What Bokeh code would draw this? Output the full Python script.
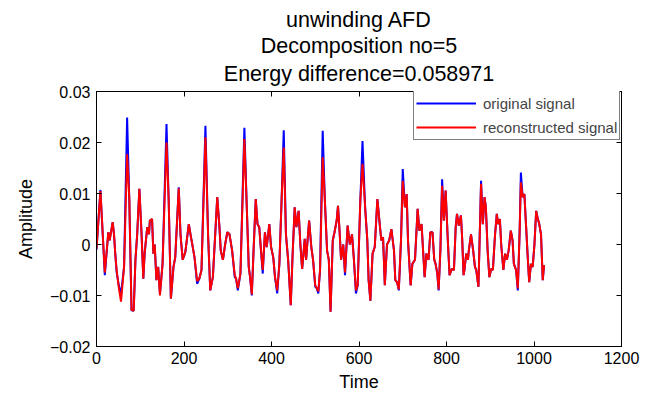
from bokeh.plotting import figure
from bokeh.models import (Range1d, FixedTicker, LinearAxis, Legend, LegendItem,
                          Title, CustomJSTickFormatter)
from bokeh.embed import file_html
from bokeh.resources import INLINE

# ---- data ----
time = [0, 9, 19, 27, 30, 37, 40, 43, 46, 51, 56, 63,
        70, 75, 80, 85, 89, 93, 98, 103, 107, 110, 116, 120, 122, 127, 130, 133, 137, 141, 145, 151,
        160, 165, 170, 176, 180, 188, 192, 197, 203, 211, 216, 220, 224, 230, 235, 240,
        249, 255, 260, 266, 276, 281, 284, 289, 294, 299, 304, 310, 316, 319, 323, 329,
        338, 343, 348, 351, 355, 359, 364, 368, 372, 376, 380, 385, 389, 395, 399, 404, 408, 413, 418, 423,
        428, 433, 438, 444, 448, 453, 457, 462, 466, 470, 476, 479, 486, 491, 495, 500, 503, 507, 511,
        517, 522, 527, 531, 535, 540, 544, 549, 552, 556, 559, 564, 568, 574, 579, 584, 588, 593, 597, 603,
        608, 614, 619, 622, 626, 631, 636, 642, 648, 651, 655, 659, 664, 669, 674, 680, 683, 687, 691, 696,
        700, 705, 709, 712, 718, 722, 728, 734, 738, 743, 746, 750, 754, 759, 763, 768, 772, 775, 779, 782, 786,
        790, 794, 798, 803, 807, 812, 817, 821, 824, 828, 833, 836, 839, 841, 845, 849, 851, 856, 861, 865, 868, 873,
        879, 883, 887, 890, 894, 898, 902, 906, 911, 915, 918, 922, 925, 930, 934, 938, 942, 947, 951, 954, 959, 963, 967,
        970, 974, 978, 982, 986, 989, 993, 997, 1001, 1005, 1008, 1012, 1016, 1020, 1023]

original = [-0.0010, 0.0107, -0.0060, 0.0024, 0.0008, 0.0044, 0.0020, -0.0020, -0.0054, -0.0080, -0.0098, -0.0044,
            0.0249, 0.0086, -0.0129, -0.0130, -0.0030, 0.0020, 0.0109, 0.0020, -0.0067, -0.0018, 0.0034, 0.0020, 0.0047, 0.0050, -0.0018, 0.0000, -0.0070, -0.0044, -0.0096, -0.0038,
            0.0236, 0.0086, -0.0106, -0.0044, -0.0025, 0.0112, 0.0020, -0.0030, -0.0015, 0.0040, 0.0014, -0.0005, -0.0025, -0.0077, -0.0067, -0.0050,
            0.0233, 0.0020, -0.0090, -0.0064, 0.0093, 0.0034, -0.0012, -0.0030, 0.0000, 0.0024, 0.0020, -0.0012, -0.0064, -0.0067, -0.0090, -0.0057,
            0.0229, 0.0086, -0.0044, -0.0064, -0.0100, -0.0012, 0.0089, 0.0040, 0.0034, -0.0012, -0.0057, 0.0024, -0.0005, 0.0040, -0.0005, -0.0025, -0.0064, -0.0096, -0.0038, 0.0086,
            0.0224, 0.0020, -0.0030, -0.0119, -0.0025, 0.0073, 0.0034, 0.0066, 0.0000, -0.0048, 0.0011, -0.0030, 0.0047, -0.0005, -0.0030, -0.0083, -0.0085, -0.0096, -0.0050,
            0.0223, 0.0086, -0.0012, -0.0030, -0.0132, 0.0008, 0.0024, 0.0047, 0.0076, 0.0020, -0.0030, 0.0000, -0.0060, 0.0037, 0.0000, 0.0020, -0.0025, -0.0096, -0.0080, 0.0086,
            0.0203, 0.0073, 0.0008, -0.0070, -0.0110, -0.0018, -0.0005, 0.0089, 0.0034, 0.0008, 0.0014, -0.0080, 0.0000, 0.0008, 0.0030, -0.0012, -0.0070, -0.0074, -0.0090, 0.0008,
            0.0148, 0.0073, 0.0099, 0.0008, -0.0080, -0.0038, -0.0030, 0.0070, 0.0027, 0.0040, -0.0005, -0.0064, -0.0018, -0.0030, 0.0024, 0.0024, -0.0030, -0.0038, -0.0057, -0.0090, -0.0012,
            0.0128, 0.0047, 0.0106, 0.0008, -0.0060, -0.0048, -0.0050, 0.0034, 0.0060, 0.0037, 0.0057, 0.0008, -0.0060, -0.0050, -0.0018, -0.0030, -0.0012, 0.0020, -0.0012, -0.0044, -0.0050, -0.0083,
            0.0125, 0.0040, 0.0093, 0.0073, -0.0012, -0.0064, -0.0048, -0.0050, 0.0020, 0.0060, 0.0040, 0.0050, 0.0000, -0.0050, -0.0018, -0.0030, -0.0012, 0.0027, 0.0008, -0.0038, -0.0050, -0.0090, 0.0020,
            0.0141, 0.0093, 0.0099, 0.0034, -0.0030, -0.0074, -0.0038, -0.0044, 0.0000, 0.0066, 0.0053, 0.0040, 0.0020, -0.0070, -0.0040]

reconstructed = [-0.0008, 0.0105, -0.0055, 0.0024, 0.0008, 0.0044, 0.0020, -0.0020, -0.0050, -0.0085, -0.0112, -0.0044,
                 0.0177, 0.0090, -0.0128, -0.0130, -0.0030, 0.0020, 0.0109, 0.0020, -0.0067, -0.0018, 0.0034, 0.0020, 0.0047, 0.0050, -0.0018, 0.0000, -0.0070, -0.0044, -0.0100, -0.0038,
                 0.0200, 0.0086, -0.0106, -0.0044, -0.0025, 0.0110, 0.0020, -0.0030, -0.0015, 0.0040, 0.0014, -0.0005, -0.0025, -0.0072, -0.0067, -0.0050,
                 0.0210, 0.0020, -0.0090, -0.0064, 0.0093, 0.0034, -0.0012, -0.0030, 0.0000, 0.0024, 0.0020, -0.0012, -0.0060, -0.0067, -0.0086, -0.0057,
                 0.0207, 0.0086, -0.0044, -0.0064, -0.0098, -0.0012, 0.0089, 0.0040, 0.0034, -0.0012, -0.0050, 0.0024, -0.0005, 0.0040, -0.0005, -0.0025, -0.0064, -0.0090, -0.0038, 0.0086,
                 0.0190, 0.0020, -0.0030, -0.0119, -0.0025, 0.0073, 0.0034, 0.0066, 0.0000, -0.0048, 0.0011, -0.0030, 0.0047, -0.0005, -0.0030, -0.0080, -0.0085, -0.0092, -0.0050,
                 0.0171, 0.0086, -0.0012, -0.0030, -0.0132, 0.0008, 0.0024, 0.0047, 0.0076, 0.0020, -0.0030, 0.0000, -0.0055, 0.0037, 0.0000, 0.0020, -0.0025, -0.0090, -0.0080, 0.0086,
                 0.0158, 0.0073, 0.0008, -0.0070, -0.0110, -0.0018, -0.0005, 0.0089, 0.0034, 0.0008, 0.0014, -0.0080, 0.0000, 0.0008, 0.0030, -0.0012, -0.0070, -0.0074, -0.0088, 0.0008,
                 0.0125, 0.0073, 0.0099, 0.0008, -0.0080, -0.0038, -0.0030, 0.0070, 0.0027, 0.0040, -0.0005, -0.0064, -0.0018, -0.0030, 0.0024, 0.0024, -0.0030, -0.0038, -0.0057, -0.0088, -0.0012,
                 0.0115, 0.0047, 0.0106, 0.0008, -0.0060, -0.0048, -0.0050, 0.0034, 0.0060, 0.0037, 0.0057, 0.0008, -0.0060, -0.0050, -0.0018, -0.0030, -0.0012, 0.0020, -0.0012, -0.0044, -0.0050, -0.0083,
                 0.0119, 0.0040, 0.0093, 0.0073, -0.0012, -0.0064, -0.0048, -0.0050, 0.0020, 0.0060, 0.0040, 0.0050, 0.0000, -0.0050, -0.0018, -0.0030, -0.0012, 0.0027, 0.0008, -0.0038, -0.0050, -0.0086, 0.0020,
                 0.0122, 0.0093, 0.0099, 0.0034, -0.0030, -0.0074, -0.0038, -0.0044, 0.0000, 0.0066, 0.0053, 0.0040, 0.0020, -0.0070, -0.0040]

x_ticks = [0, 200, 400, 600, 800, 1000, 1200]
y_ticks = [-0.02, -0.01, 0, 0.01, 0.02, 0.03]
title_lines = ["unwinding AFD", "Decomposition no=5", "Energy difference=0.058971"]
series_names = ["original signal", "reconstructed signal"]
series_colors = ["#0000ff", "#ff0000"]

FONT = "Liberation Sans"

p = figure(width=648, height=394, output_backend="svg", toolbar_location=None,
           x_range=Range1d(0, 1200), y_range=Range1d(-0.02, 0.03),
           min_border_left=96, min_border_right=27, min_border_top=91, min_border_bottom=48)
p.title_location = None
p.background_fill_color = "white"
p.border_fill_color = "white"
p.outline_line_color = "black"
p.outline_line_width = 1
p.xgrid.visible = False
p.ygrid.visible = False

r_orig = p.line(time, original, line_color=series_colors[0], line_width=2)
r_rec = p.line(time, reconstructed, line_color=series_colors[1], line_width=2)

yfmt = CustomJSTickFormatter(code="""
if (Math.abs(tick) < 1e-12) { return "0"; }
return (tick < 0 ? "\u2212" : "") + Math.abs(tick).toFixed(2);
""")

def style_axis(ax, show_labels=True):
    ax.axis_line_color = "black"
    ax.major_tick_line_color = "black"
    ax.major_tick_in = 5
    ax.major_tick_out = 0
    ax.minor_tick_line_color = None
    ax.major_label_text_font = FONT
    ax.major_label_text_color = "black"
    ax.major_label_text_font_size = "16px"
    ax.axis_label_text_font = FONT
    ax.axis_label_text_font_style = "normal"
    ax.axis_label_text_font_size = "18px"
    ax.axis_label_text_color = "black"
    if not show_labels:
        ax.major_label_text_font_size = "1px"
        ax.major_label_text_alpha = 0
        ax.major_label_standoff = 0

xa = p.xaxis[0]
xa.ticker = FixedTicker(ticks=x_ticks)
xa.axis_label = "Time"
style_axis(xa)
xa.major_label_standoff = 5
xa.axis_label_standoff = 5

ya = p.yaxis[0]
ya.ticker = FixedTicker(ticks=y_ticks)
ya.formatter = yfmt
ya.axis_label = "Amplitude"
style_axis(ya)
ya.major_label_standoff = 6
ya.axis_label_standoff = 11

top = LinearAxis(ticker=FixedTicker(ticks=x_ticks))
style_axis(top, False)
p.add_layout(top, "above")
right = LinearAxis(ticker=FixedTicker(ticks=y_ticks))
style_axis(right, False)
p.add_layout(right, "right")

# titles: added innermost first (last line closest to the frame)
title_standoffs = [0, 0, 8]
title_valign = ["bottom", "bottom", "top"]
for txt, so, va in reversed(list(zip(title_lines, title_standoffs, title_valign))):
    p.add_layout(Title(text=txt, align="center", vertical_align=va, text_font=FONT,
                       text_font_size="21.5px", text_font_style="normal", text_color="black",
                       standoff=so, offset=0), "above")

legend = Legend(items=[LegendItem(label=series_names[0], renderers=[r_orig]),
                       LegendItem(label=series_names[1], renderers=[r_rec])],
                location=(317, 206))
legend.border_line_color = "black"
legend.border_line_width = 1
legend.background_fill_color = "white"
legend.background_fill_alpha = 1
legend.label_text_font = FONT
legend.label_text_font_size = "15px"
legend.glyph_width = 60
legend.glyph_height = 20
legend.label_height = 20
legend.label_standoff = 7
legend.spacing = 4
legend.padding = 2
legend.margin = 0
p.add_layout(legend, "center")

open("out.html", "w").write(file_html(p, INLINE))
